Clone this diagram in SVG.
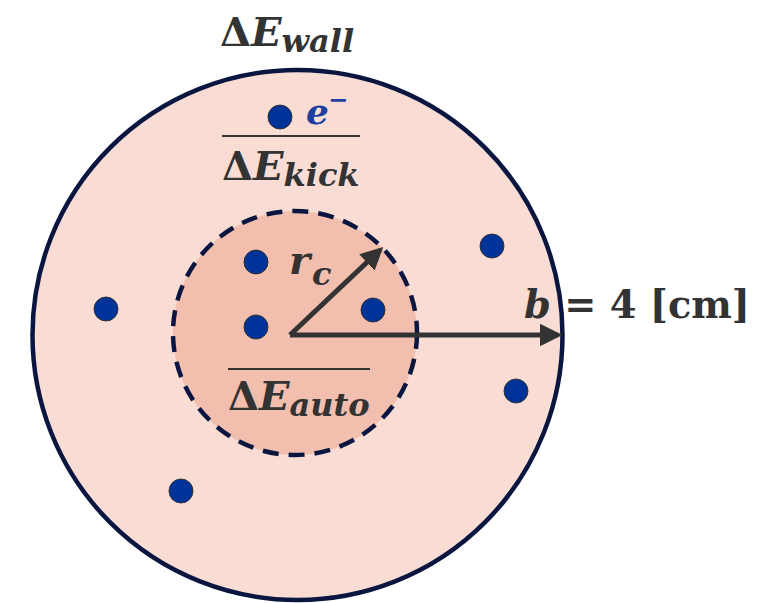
<svg xmlns="http://www.w3.org/2000/svg" width="774" height="603" viewBox="0 0 774 603">
<defs>
<marker id="ah" viewBox="0 0 10 10" refX="8" refY="5" markerWidth="4.5" markerHeight="4.5" orient="auto" markerUnits="strokeWidth"><path d="M0,0 L10,5 L0,10 z" fill="#333"/></marker>
<style>
.t{font-family:"DejaVu Serif","Liberation Serif",serif;font-weight:bold;fill:#333}
.i{font-style:italic}
.dot{fill:#003399;stroke:#333;stroke-width:1}
</style>
</defs>
<rect width="774" height="603" fill="#fff"/>
<g id="outer"><circle cx="297.5" cy="335" r="265" fill="#f9ddd5" stroke="#0a1640" stroke-width="4.5"/></g>
<g id="inner"><circle cx="295" cy="333" r="122" fill="#f2bfae" stroke="#0a1640" stroke-width="4.5" stroke-dasharray="16,10"/></g>
<g id="dots">
<circle class="dot" cx="280" cy="117" r="12"/>
<circle class="dot" cx="256" cy="262" r="12"/>
<circle class="dot" cx="256" cy="327" r="12"/>
<circle class="dot" cx="373" cy="310" r="12"/>
<circle class="dot" cx="492" cy="246" r="12"/>
<circle class="dot" cx="106" cy="309" r="12"/>
<circle class="dot" cx="516" cy="391" r="12"/>
<circle class="dot" cx="181" cy="491" r="12"/>
</g>
<g id="connectors" stroke="#333" stroke-width="5" fill="none">
<path d="M290,335 L558,335" marker-end="url(#ah)"/>
<path d="M290,335 L380,250" marker-end="url(#ah)"/>
</g>
<g id="labels">
<text class="t" x="220" y="46" font-size="40">Δ<tspan class="i">E</tspan><tspan class="i" font-size="32" dy="6">wall</tspan></text>
<text class="t i" x="306" y="124" font-size="36" style="fill:#1f3f9f">e</text>
<text class="t" x="328" y="108" font-size="24" style="fill:#1f3f9f">−</text>
<line x1="222" y1="136" x2="360" y2="136" stroke="#333" stroke-width="2"/>
<text class="t" x="222" y="180" font-size="40">Δ<tspan class="i">E</tspan><tspan class="i" font-size="32" dy="6">kick</tspan></text>
<text class="t i" x="289" y="274" font-size="40">r</text>
<text class="t i" x="312" y="285" font-size="32">c</text>
<line x1="228" y1="369" x2="370" y2="369" stroke="#333" stroke-width="2"/>
<text class="t" x="228" y="410" font-size="40">Δ<tspan class="i">E</tspan><tspan class="i" font-size="32" dy="6">auto</tspan></text>
<text class="t" x="524" y="318" font-size="40" textLength="226" lengthAdjust="spacingAndGlyphs"><tspan class="i">b</tspan> = 4 [cm]</text>
</g>
</svg>
